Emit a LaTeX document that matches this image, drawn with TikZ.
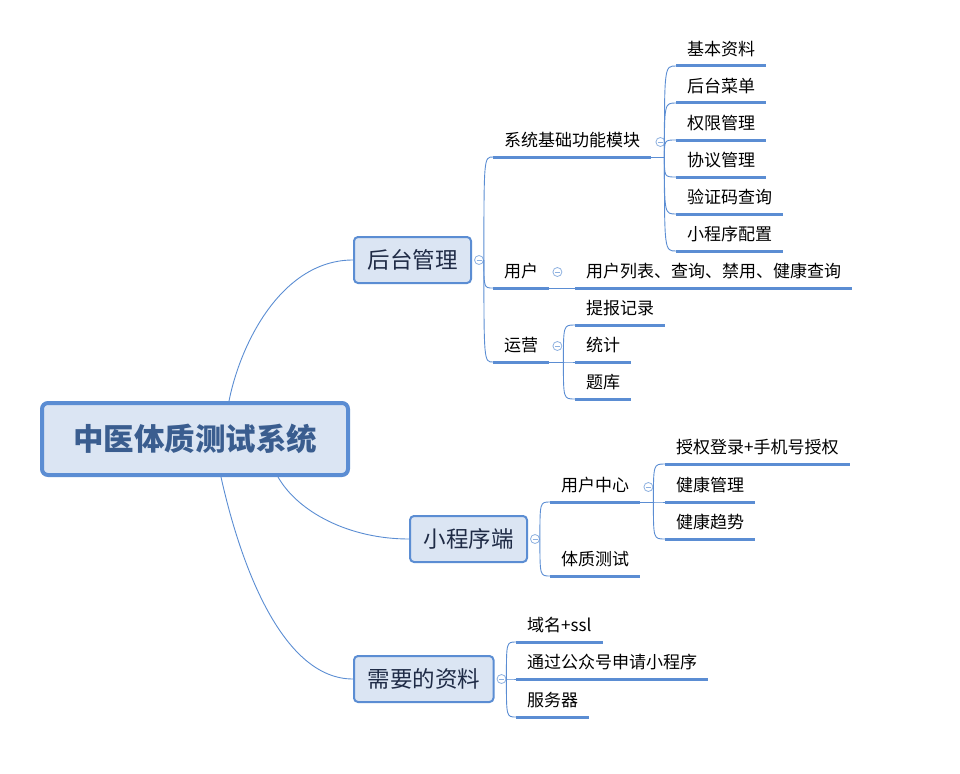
\documentclass[tikz,border=0pt]{standalone}
\usepackage{fontspec}
\setmainfont{Noto Sans CJK SC}
\usetikzlibrary{calc}

\definecolor{mapblue}{HTML}{5B8DD3}
\definecolor{boxfill}{HTML}{DBE5F3}
\definecolor{titleblue}{HTML}{3A5D8F}
\definecolor{topicink}{HTML}{1F2B46}
\definecolor{foldblue}{HTML}{8EB1E0}

\tikzset{
    centre/.style={draw=mapblue, line width=4pt, fill=boxfill, rounded corners=6pt,
        minimum width=306pt, minimum height=72pt, inner sep=0pt,
        font=\fontsize{30.5}{36}\selectfont\bfseries, text=titleblue},
    topic/.style={draw=mapblue, line width=2pt, fill=boxfill, rounded corners=4pt,
        anchor=west, inner xsep=13.5pt, inner ysep=0pt, minimum height=46pt,
        font=\fontsize{22.5}{26}\selectfont, text=topicink},
    uline/.style={draw=mapblue, line width=3pt},
    item/.style={anchor=south west, inner xsep=11pt, inner ysep=0pt, minimum height=33pt,
        font=\fontsize{17}{20}\selectfont,
        append after command={\pgfextra{\let\itemnode=\tikzlastnode}
            (\itemnode.south west) edge[uline] (\itemnode.south east)}},
    branch/.style={draw=mapblue, line width=0.9pt},
    fold/.style={circle, draw=foldblue, line width=0.8pt, fill=white, minimum size=9pt, inner sep=0pt,
        path picture={\draw[foldblue, line width=0.8pt]
            ([xshift=-2.5pt]path picture bounding box.center) -- ([xshift=2.5pt]path picture bounding box.center);}},
}

\begin{document}
\begin{tikzpicture}[x=1pt, y=-1pt]
    \useasboundingbox (0,0) rectangle (960,773);

    % central topic
    \node[centre] (main) at (195,439) {中医体质测试系统};

    % main topics
    \node[topic] (admin) at (353,260) {后台管理};
    \node[topic] (mini) at (409,539) {小程序端};
    \node[topic] (need) at (353,679) {需要的资料};
    \draw[branch] ([xshift=34pt]main.north) .. controls +(12,-60) and +(-70,0) .. (admin.west);
    \draw[branch] ([xshift=83pt]main.south) .. controls +(20,35) and +(-60,0) .. (mini.west);
    \draw[branch] ([xshift=26pt]main.south) .. controls +(20,90) and +(-70,0) .. (need.west);

    \node[fold] (admin-f) at ([xshift=7pt]admin.east) {};
    \node[fold] (mini-f) at ([xshift=7pt]mini.east) {};
    \node[fold] (need-f) at ([xshift=7pt]need.east) {};

    % --- 后台管理 ---
    \node[item] (sys) at (493,157) {系统基础功能模块};
    \node[item] (user) at (493,288) {用户};
    \node[item] (ops) at (493,362) {运营};
    \foreach \n in {sys,user,ops}
        \draw[branch] (admin-f.east) .. controls (admin-f.east |- \n.south west) .. (\n.south west);

    \foreach \t [count=\i] in {基本资料,后台菜单,权限管理,协议管理,验证码查询,小程序配置}
        \node[item] (sys\i) at (676,29+37*\i) {\t};
    \node[fold] (sys-f) at ([shift={(9,-15)}]sys.south east) {};
    \coordinate (sys-o) at ([xshift=13pt]sys.south east);
    \draw[branch] (sys.south east) -- (sys-o);
    \foreach \i in {1,...,6}
        \draw[branch] (sys-o) .. controls (sys-o |- sys\i.south west) .. (sys\i.south west);

    \node[item] (ulist) at (575,288) {用户列表、查询、禁用、健康查询};
    \node[fold] (user-f) at ([shift={(8,-16)}]user.south east) {};
    \draw[branch] (user.south east) -- (ulist.south west);

    \foreach \t [count=\i] in {提报记录,统计,题库}
        \node[item] (ops\i) at (575,288+37*\i) {\t};
    \node[fold] (ops-f) at ([shift={(8,-16)}]ops.south east) {};
    \coordinate (ops-o) at ([xshift=14pt]ops.south east);
    \draw[branch] (ops.south east) -- (ops-o);
    \foreach \i in {1,2,3}
        \draw[branch] (ops-o) .. controls (ops-o |- ops\i.south west) .. (ops\i.south west);

    % --- 小程序端 ---
    \node[item] (ucentre) at (550,502) {用户中心};
    \node[item] (test) at (550,576) {体质测试};
    \foreach \n in {ucentre,test}
        \draw[branch] (mini-f.east) .. controls (mini-f.east |- \n.south west) .. (\n.south west);

    \foreach \t/\y [count=\i] in {授权登录+手机号授权/464,健康管理/502,健康趋势/539}
        \node[item] (uc\i) at (665,\y) {\t};
    \node[fold] (ucentre-f) at ([shift={(8,-15)}]ucentre.south east) {};
    \coordinate (ucentre-o) at ([xshift=13pt]ucentre.south east);
    \draw[branch] (ucentre.south east) -- (ucentre-o);
    \foreach \i in {1,2,3}
        \draw[branch] (ucentre-o) .. controls (ucentre-o |- uc\i.south west) .. (uc\i.south west);

    % --- 需要的资料 ---
    \foreach \t/\y [count=\i] in {域名+ssl/642,通过公众号申请小程序/679,服务器/717}
        \node[item] (need\i) at (516,\y) {\t};
    \foreach \i in {1,2,3}
        \draw[branch] (need-f.east) .. controls (need-f.east |- need\i.south west) .. (need\i.south west);

\end{tikzpicture}
\end{document}
